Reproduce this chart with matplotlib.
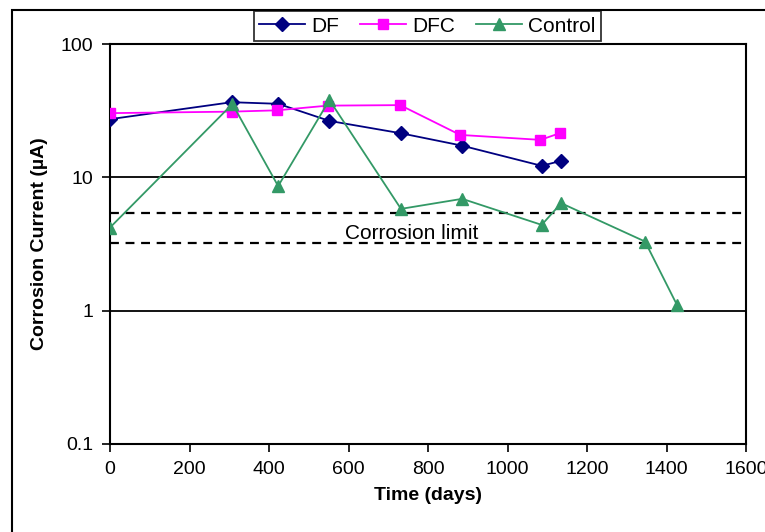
import matplotlib
matplotlib.use('Agg')
import matplotlib.pyplot as plt
from matplotlib.patches import Rectangle
from matplotlib.transforms import Bbox, TransformedBbox

plt.rcParams['font.family'] = ['Liberation Sans', 'DejaVu Sans']

# data
df_days = [0, 306, 423, 552, 732, 885, 1086, 1135]
df_current = [27.3, 36.6, 35.6, 26.5, 21.4, 17.3, 12.2, 13.3]

dfc_days = [0, 306, 419, 548, 730, 881, 1083, 1131]
dfc_current = [30.3, 31.1, 31.8, 34.5, 34.8, 20.8, 19.1, 21.4]

control_days = [0, 308, 423, 552, 732, 886, 1086, 1135, 1346, 1426]
control_current = [4.2, 35.5, 8.6, 38.0, 5.8, 6.9, 4.4, 6.4, 3.3, 1.11]

limit_upper = 5.4
limit_lower = 3.2

y_ticks = [0.1, 1, 10, 100]
y_ticklabels = ['0.1', '1', '10', '100']
x_ticks = [0, 200, 400, 600, 800, 1000, 1200, 1400, 1600]

fig = plt.figure(figsize=(7.65, 5.32), dpi=100)
ax = fig.add_axes([110 / 765, 1 - 444 / 532, 636 / 765, 400 / 532])

# outer chart frame (runs off the right and bottom of the image)
fig.patches.append(Rectangle((12 / 765, -0.2), 2.0, 1.2 - 10 / 532,
                             transform=fig.transFigure, fill=False,
                             edgecolor='black', linewidth=1.5, clip_on=False))

ax.set_yscale('log')
ax.set_xlim(0, 1600)
ax.set_ylim(0.1, 100)

for g in [1, 10]:
    ax.axhline(g, color='black', linewidth=1.3, zorder=1)

for lim in [limit_upper, limit_lower]:
    ax.axhline(lim, color='black', linewidth=1.6, linestyle=(0, (4, 3)), zorder=1)

# label is cut off just above the lower limit line, as in the original
t = ax.text(760, 3.42, 'Corrosion limit', fontsize=15, ha='center', va='baseline', zorder=1)
t.set_clip_box(TransformedBbox(Bbox([[0, 3.62], [1600, 100]]), ax.transData))

ax.plot(df_days, df_current, color='#000080', marker='D', markersize=7,
        linewidth=1.3, label='DF', zorder=3)
ax.plot(dfc_days, dfc_current, color='#FF00FF', marker='s', markersize=7,
        linewidth=1.3, label='DFC', zorder=3)
ax.plot(control_days, control_current, color='#339966', marker='^', markersize=9,
        linewidth=1.3, label='Control', zorder=3)

ax.set_yticks(y_ticks)
ax.set_yticklabels(y_ticklabels)
ax.yaxis.set_minor_locator(matplotlib.ticker.NullLocator())
ax.set_xticks(x_ticks)
ax.tick_params(axis='both', direction='out', length=6, width=1.2, labelsize=14, pad=6)

for s in ax.spines.values():
    s.set_linewidth(1.5)

ax.set_xlabel('Time (days)', fontsize=14, fontweight='bold', labelpad=7)
ax.set_ylabel('Corrosion Current (µA)', fontsize=14, fontweight='bold', labelpad=9)

leg = fig.legend(loc='center', bbox_to_anchor=(427.5 / 765, 1 - 26 / 532), ncol=3,
                 fontsize=15, frameon=True, fancybox=False, handlelength=2.2,
                 handletextpad=0.3, columnspacing=1.0, borderpad=0.25,
                 borderaxespad=0)
leg.get_frame().set_edgecolor('black')
leg.get_frame().set_linewidth(1.3)

fig.savefig('out.png', dpi=100)
